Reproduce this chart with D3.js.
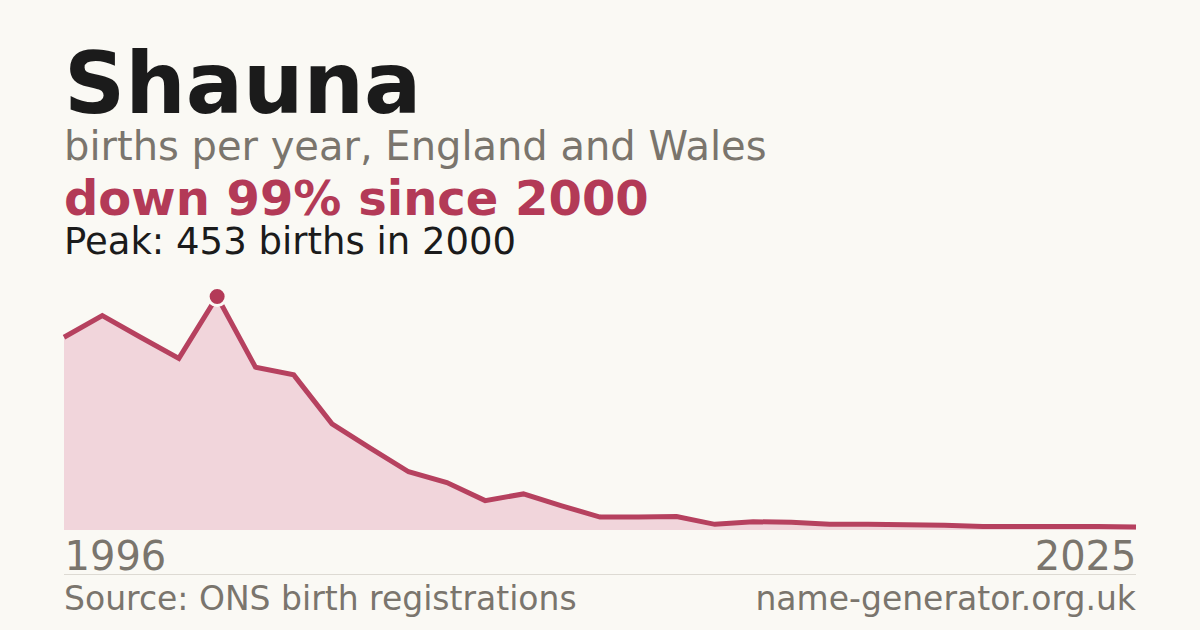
<!DOCTYPE html>
<html lang="en">
<head>
<meta charset="UTF-8">
<title>Shauna births</title>
<script src="https://d3js.org/d3.v7.min.js"></script>
<style>
    body{
        margin: 0;
        padding: 0;
        background: #faf9f4;
    }
    svg{
        display: block;
        font-family: "DejaVu Sans", sans-serif;
    }
</style>
</head>
<body>
<svg id="canvas" width="1200" height="630"></svg>
<script>

// births per year
const years = [1996, 1997, 1998, 1999, 2000, 2001, 2002, 2003, 2004, 2005,
               2006, 2007, 2008, 2009, 2010, 2011, 2012, 2013, 2014, 2015,
               2016, 2017, 2018, 2019, 2020, 2021, 2022, 2023, 2024]
const births = [374, 416, 374, 333, 453, 316, 301, 206, 159, 113,
                92, 57, 70, 47, 25, 25, 26, 11, 16, 15,
                11, 11, 10, 9, 7, 7, 7, 7, 6]
const axisLabels = ["1996", "2025"]

const peakValue = 453
const peakYear = 2000

const canvas = d3.select("#canvas")

canvas.append("rect")
    .attr("width", 1200)
    .attr("height", 630)
    .attr("fill", "#faf9f4")

// heading texts
canvas.append("text")
    .attr("x", 64).attr("y", 113)
    .attr("font-size", 85).attr("font-weight", "bold")
    .attr("fill", "#1b1b1b")
    .text("Shauna")

canvas.append("text")
    .attr("x", 64).attr("y", 160)
    .attr("font-size", 40)
    .attr("fill", "#7a756d")
    .text("births per year, England and Wales")

canvas.append("text")
    .attr("x", 64).attr("y", 215)
    .attr("font-size", 48).attr("font-weight", "bold")
    .attr("fill", "#b33a57")
    .text("down 99% since " + peakYear)

canvas.append("text")
    .attr("x", 64).attr("y", 254)
    .attr("font-size", 37)
    .attr("fill", "#1b1b1b")
    .text("Peak: " + peakValue + " births in " + peakYear)

// scales
let x = d3.scalePoint()
    .domain(d3.range(births.length))
    .range([64, 1136])

let y = d3.scaleLinear()
    .domain([0, d3.max(births)])
    .range([530, 296.5])

let area = d3.area()
    .x((d, i) => x(i))
    .y0(y(0))
    .y1(d => y(d))

let line = d3.line()
    .x((d, i) => x(i))
    .y(d => y(d))

canvas.append("path")
    .datum(births)
    .attr("d", area)
    .attr("fill", "#f1d5db")

canvas.append("path")
    .datum(births)
    .attr("d", line)
    .attr("fill", "none")
    .attr("stroke", "#b6415f")
    .attr("stroke-width", 5)
    .attr("stroke-linejoin", "miter")

// peak marker
let peakIndex = births.indexOf(d3.max(births))
canvas.append("circle")
    .attr("cx", x(peakIndex))
    .attr("cy", y(births[peakIndex]))
    .attr("r", 9)
    .attr("fill", "#b33a57")
    .attr("stroke", "#faf9f4")
    .attr("stroke-width", 3)

// end year labels
let axis = d3.axisBottom(x)
    .tickValues([0, births.length - 1])
    .tickFormat((d, i) => axisLabels[i])
    .tickSize(0)
    .tickPadding(0)

let axisG = canvas.append("g")
    .attr("transform", "translate(0,540)")
    .call(axis)

axisG.select(".domain").remove()
axisG.selectAll("text")
    .attr("font-family", "DejaVu Sans, sans-serif")
    .attr("font-size", 40)
    .attr("fill", "#7a756d")
    .attr("dy", "0.76em")
    .attr("text-anchor", (d, i) => i === 0 ? "start" : "end")

// footer
canvas.append("line")
    .attr("x1", 64).attr("x2", 1136)
    .attr("y1", 574.5).attr("y2", 574.5)
    .attr("stroke", "#dddad3")
    .attr("stroke-width", 1)

canvas.append("text")
    .attr("x", 64).attr("y", 610)
    .attr("font-size", 33)
    .attr("fill", "#7a756d")
    .text("Source: ONS birth registrations")

canvas.append("text")
    .attr("x", 1136).attr("y", 610)
    .attr("font-size", 33)
    .attr("fill", "#7a756d")
    .attr("text-anchor", "end")
    .text("name-generator.org.uk")

</script>
</body>
</html>
